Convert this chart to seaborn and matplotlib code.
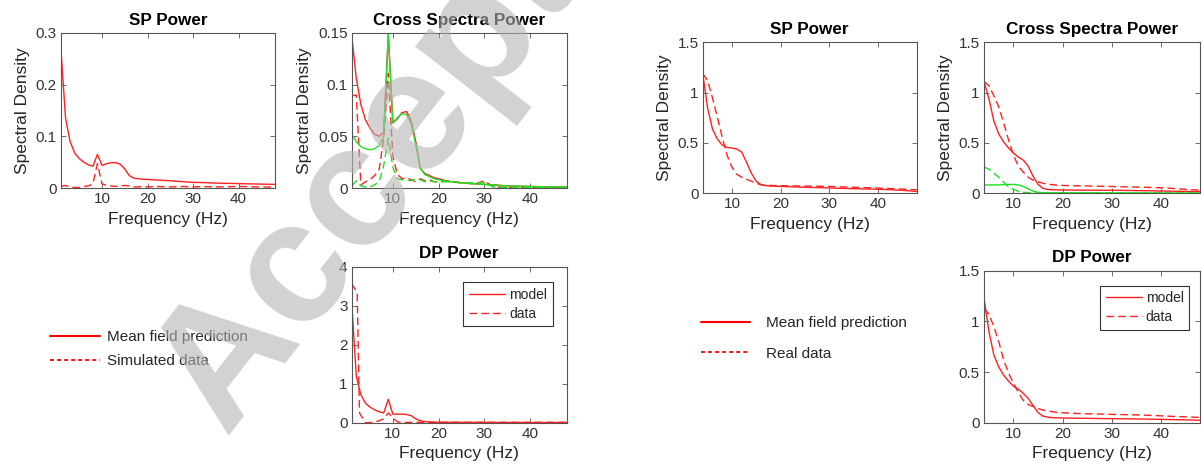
import numpy as np
import pandas as pd
import matplotlib
matplotlib.use("Agg")
import matplotlib.pyplot as plt
from matplotlib.lines import Line2D
import seaborn as sns

# ---------------- data ----------------
freq_left = [1, 2, 3, 4, 5, 6, 7, 8, 9, 10, 11, 12, 13, 14, 15, 16, 17, 18, 19, 20,
             22, 25, 28, 30, 32, 35, 40, 45, 48]
freq_right = [4, 5, 6, 7, 8, 9, 10, 11, 12, 13, 14, 15, 16, 17, 18, 19, 20,
              22, 25, 28, 30, 32, 35, 38, 40, 42, 45, 48]

# Left (simulated) - SP power
sim_sp_model = [0.267, 0.135, 0.090, 0.068, 0.057, 0.050, 0.045, 0.042, 0.065, 0.044,
                0.047, 0.049, 0.049, 0.046, 0.037, 0.024, 0.019, 0.018, 0.017, 0.0165,
                0.0155, 0.014, 0.012, 0.011, 0.0105, 0.0095, 0.0085, 0.0075, 0.007]
sim_sp_data = [0.003, 0.005, 0.002, 0.001, 0.001, 0.003, 0.004, 0.008, 0.047, 0.008,
               0.005, 0.004, 0.003, 0.004, 0.005, 0.004, 0.002, 0.002, 0.003, 0.002,
               0.003, 0.002, 0.003, 0.002, 0.003, 0.002, 0.003, 0.002, 0.002]
# Left - cross spectra (red / green)
sim_cs_model_r = [0.148, 0.106, 0.081, 0.066, 0.058, 0.052, 0.050, 0.054, 0.148, 0.063,
                  0.067, 0.073, 0.074, 0.065, 0.045, 0.019, 0.014, 0.012, 0.010, 0.009,
                  0.0065, 0.005, 0.004, 0.0035, 0.003, 0.002, 0.0015, 0.001, 0.001]
sim_cs_model_g = [0.052, 0.045, 0.040, 0.038, 0.037, 0.038, 0.041, 0.050, 0.150, 0.063,
                  0.068, 0.072, 0.071, 0.062, 0.042, 0.019, 0.013, 0.011, 0.009, 0.008,
                  0.0065, 0.005, 0.004, 0.0035, 0.003, 0.002, 0.0015, 0.001, 0.001]
sim_cs_data_r = [0.089, 0.090, 0.003, 0.006, 0.008, 0.012, 0.018, 0.048, 0.111, 0.030,
                 0.013, 0.009, 0.010, 0.008, 0.006, 0.009, 0.007, 0.008, 0.006, 0.006,
                 0.007, 0.005, 0.004, 0.007, 0.001, 0.0005, 0.0005, 0.0005, 0.0005]
sim_cs_data_g = [0.002, 0.007, 0.002, 0.001, 0.001, 0.003, 0.006, 0.022, 0.048, 0.020,
                 0.009, 0.008, 0.008, 0.007, 0.009, 0.008, 0.006, 0.007, 0.006, 0.006,
                 0.006, 0.005, 0.005, 0.005, 0.001, 0.0005, 0.0005, 0.0005, 0.0005]
# Left - DP power
sim_dp_model = [3.10, 1.20, 0.72, 0.50, 0.40, 0.33, 0.28, 0.25, 0.60, 0.22,
                0.22, 0.22, 0.21, 0.18, 0.10, 0.05, 0.03, 0.02, 0.015, 0.012,
                0.010, 0.008, 0.007, 0.006, 0.005, 0.005, 0.004, 0.004, 0.003]
freq_dp_data = [1, 2.2, 2.7, 4, 5, 6, 7, 8, 9, 10, 11, 12, 14, 16, 20, 25, 30, 35, 40, 45, 48]
sim_dp_data = [3.57, 3.33, 0.25, 0.0, 0.0, 0.02, 0.05, 0.10, 0.25, 0.12, 0.02, 0.005,
               0.01, 0.01, 0.01, 0.01, 0.01, 0.01, 0.01, 0.01, 0.01]

# Right (real) - SP power
real_sp_model = [1.19, 0.85, 0.64, 0.54, 0.48, 0.455, 0.45, 0.44, 0.41, 0.31, 0.20, 0.12,
                 0.085, 0.075, 0.072, 0.070, 0.068, 0.065, 0.060, 0.056, 0.053, 0.050,
                 0.046, 0.043, 0.040, 0.037, 0.030, 0.018]
real_sp_data = [1.19, 1.12, 0.95, 0.76, 0.56, 0.38, 0.26, 0.19, 0.16, 0.14, 0.12, 0.10,
                0.085, 0.080, 0.078, 0.077, 0.076, 0.074, 0.072, 0.070, 0.068, 0.065,
                0.060, 0.055, 0.052, 0.048, 0.042, 0.035]
# Right - cross spectra
real_cs_model_r = [1.11, 0.94, 0.72, 0.59, 0.51, 0.45, 0.40, 0.36, 0.33, 0.27, 0.17, 0.09,
                   0.050, 0.038, 0.035, 0.034, 0.033, 0.032, 0.031, 0.030, 0.030, 0.029,
                   0.027, 0.025, 0.023, 0.021, 0.019, 0.016]
real_cs_data_r = [1.11, 1.07, 0.97, 0.86, 0.70, 0.53, 0.38, 0.27, 0.21, 0.16, 0.13, 0.115,
                  0.100, 0.090, 0.085, 0.080, 0.078, 0.075, 0.073, 0.070, 0.068, 0.065,
                  0.062, 0.058, 0.055, 0.050, 0.040, 0.030]
real_cs_model_g = [0.083, 0.083, 0.083, 0.084, 0.086, 0.088, 0.088, 0.083, 0.067, 0.045,
                   0.022, 0.010, 0.006, 0.005, 0.005, 0.005, 0.005, 0.005, 0.005, 0.004,
                   0.004, 0.004, 0.004, 0.004, 0.003, 0.003, 0.003, 0.003]
real_cs_data_g = [0.26, 0.24, 0.20, 0.16, 0.11, 0.065, 0.040, 0.020, 0.010, 0.007, 0.006,
                  0.005, 0.005, 0.004, 0.004, 0.004, 0.004, 0.004, 0.004, 0.004, 0.004,
                  0.004, 0.003, 0.003, 0.003, 0.003, 0.003, 0.003]
# Right - DP power
real_dp_model = [1.23, 0.90, 0.67, 0.55, 0.47, 0.41, 0.36, 0.33, 0.29, 0.24, 0.17, 0.10,
                 0.065, 0.055, 0.050, 0.048, 0.047, 0.045, 0.043, 0.041, 0.040, 0.039,
                 0.037, 0.035, 0.033, 0.031, 0.028, 0.024]
real_dp_data = [1.13, 1.07, 0.95, 0.80, 0.62, 0.49, 0.39, 0.30, 0.22, 0.18, 0.16, 0.14,
                0.125, 0.115, 0.108, 0.102, 0.098, 0.093, 0.088, 0.085, 0.082, 0.080,
                0.077, 0.072, 0.068, 0.063, 0.058, 0.052]

xticks = [10, 20, 30, 40]
yt_sim_sp = [0, 0.1, 0.2, 0.3]
yl_sim_sp = ["0", "0.1", "0.2", "0.3"]
yt_sim_cs = [0, 0.05, 0.1, 0.15]
yl_sim_cs = ["0", "0.05", "0.1", "0.15"]
yt_sim_dp = [0, 1, 2, 3, 4]
yl_sim_dp = ["0", "1", "2", "3", "4"]
yt_real = [0, 0.5, 1, 1.5]
yl_real = ["0", "0.5", "1", "1.5"]

# ---------------- style ----------------
sns.set_theme(style="white")
plt.rcParams.update({
    "font.family": ["Liberation Sans", "DejaVu Sans"],
    "xtick.direction": "in", "ytick.direction": "in",
    "xtick.top": True, "ytick.right": True,
    "xtick.bottom": True, "ytick.left": True,
    "xtick.major.size": 3.5, "ytick.major.size": 3.5,
    "xtick.major.width": 0.6, "ytick.major.width": 0.6,
    "xtick.color": "#555555", "ytick.color": "#555555",
    "xtick.labelcolor": "#333333", "ytick.labelcolor": "#333333",
    "axes.edgecolor": "#555555", "axes.linewidth": 0.8,
    "xtick.major.pad": 3, "ytick.major.pad": 3,
})

RED = "#ff2020"
GREEN = "#20e020"
LW = 1.0
DASH = (5.5, 3.0)

W, H = 1202, 475
fig = plt.figure(figsize=(W / 100, H / 100), dpi=100)


def add_ax(x0, x1, y0, y1):
    return fig.add_axes([x0 / W, 1 - y1 / H, (x1 - x0) / W, (y1 - y0) / H])


def line(ax, x, y, color, dashed=False, label=None):
    kw = dict(dashes=DASH) if dashed else {}
    sns.lineplot(x=x, y=y, ax=ax, color=color, lw=LW, label=label, **kw)


def style(ax, title, xlim, ylim, yt, yl, ylabel=True):
    ax.set_xlim(*xlim)
    ax.set_ylim(*ylim)
    ax.set_xticks(xticks)
    ax.set_xticklabels([str(t) for t in xticks], fontsize=11)
    ax.set_yticks(yt)
    ax.set_yticklabels(yl, fontsize=11)
    ax.set_title(title, fontsize=12.3, fontweight="bold", color="black", pad=6)
    ax.set_xlabel("Frequency (Hz)", fontsize=12.5, color="#262626", labelpad=4)
    if ylabel:
        ax.set_ylabel("Spectral Density", fontsize=12.5, color="#262626", labelpad=4)
    else:
        ax.set_ylabel("")
    for s in ax.spines.values():
        s.set_visible(True)


# Left (simulated)
ax1 = add_ax(61, 275, 33, 188)
line(ax1, freq_left, sim_sp_model, RED)
line(ax1, freq_left, sim_sp_data, RED, dashed=True)
style(ax1, "SP Power", (1, 48), (0, 0.3), yt_sim_sp, yl_sim_sp)

ax2 = add_ax(351.7, 566.7, 33, 188)
line(ax2, freq_left, sim_cs_model_r, RED)
line(ax2, freq_left, sim_cs_data_r, RED, dashed=True)
line(ax2, freq_left, sim_cs_model_g, GREEN)
line(ax2, freq_left, sim_cs_data_g, GREEN, dashed=True)
style(ax2, "Cross Spectra Power", (1, 48), (0, 0.15), yt_sim_cs, yl_sim_cs)

ax3 = add_ax(351.7, 566.7, 266.7, 422.7)
line(ax3, freq_left, sim_dp_model, RED, label="model")
line(ax3, freq_dp_data, sim_dp_data, RED, dashed=True, label="data")
style(ax3, "DP Power", (1, 48), (0, 4), yt_sim_dp, yl_sim_dp, ylabel=False)

# Right (real)
ax4 = add_ax(702.7, 916.7, 42.3, 193.3)
line(ax4, freq_right, real_sp_model, RED)
line(ax4, freq_right, real_sp_data, RED, dashed=True)
style(ax4, "SP Power", (4, 48), (0, 1.5), yt_real, yl_real)

ax5 = add_ax(984, 1200, 42.3, 193.3)
line(ax5, freq_right, real_cs_model_r, RED)
line(ax5, freq_right, real_cs_data_r, RED, dashed=True)
line(ax5, freq_right, real_cs_model_g, GREEN)
line(ax5, freq_right, real_cs_data_g, GREEN, dashed=True)
style(ax5, "Cross Spectra Power", (4, 48), (0, 1.5), yt_real, yl_real)

ax6 = add_ax(984, 1200, 270.7, 422.7)
line(ax6, freq_right, real_dp_model, RED, label="model")
line(ax6, freq_right, real_dp_data, RED, dashed=True, label="data")
style(ax6, "DP Power", (4, 48), (0, 1.5), yt_real, yl_real, ylabel=False)

for ax, anchor in ((ax3, (463.3, 282.3)), (ax6, (1100, 285.7))):
    leg = ax.legend(loc="upper left", bbox_to_anchor=(anchor[0] / W, 1 - anchor[1] / H),
                    bbox_transform=fig.transFigure, fontsize=10, frameon=True,
                    fancybox=False, edgecolor="#333333", framealpha=1,
                    handlelength=2.6, handletextpad=0.3, borderpad=0.4,
                    labelspacing=0.35, borderaxespad=0)
    leg.get_frame().set_linewidth(0.8)

# Figure-level legends
h_solid = Line2D([], [], color="red", lw=1.5)
h_dash = Line2D([], [], color="red", lw=1.3, dashes=(2.2, 1.7))
fig.legend([h_solid, h_dash], ["Mean field prediction", "Simulated data"],
           loc="upper left", bbox_to_anchor=(50 / W, 1 - 330 / H), frameon=False,
           fontsize=11, handlelength=3.3, handletextpad=0.45, labelspacing=0.65,
           borderpad=0, borderaxespad=0)
fig.legend([h_solid, h_dash], ["Mean field prediction", "Real data"],
           loc="upper left", bbox_to_anchor=(700.7 / W, 1 - 316 / H), frameon=False,
           fontsize=11, handlelength=3.2, handletextpad=1.05, labelspacing=1.1,
           borderpad=0, borderaxespad=0)

# Watermark (cut by the top edge, as in the reference)
fig.text(430 / W, 1 - 100 / H, "Accepted", rotation=52, fontsize=125,
         fontweight="bold", color="#b4b4b4", alpha=0.6, ha="center", va="center",
         zorder=10)

fig.savefig("out.png", dpi=100)
